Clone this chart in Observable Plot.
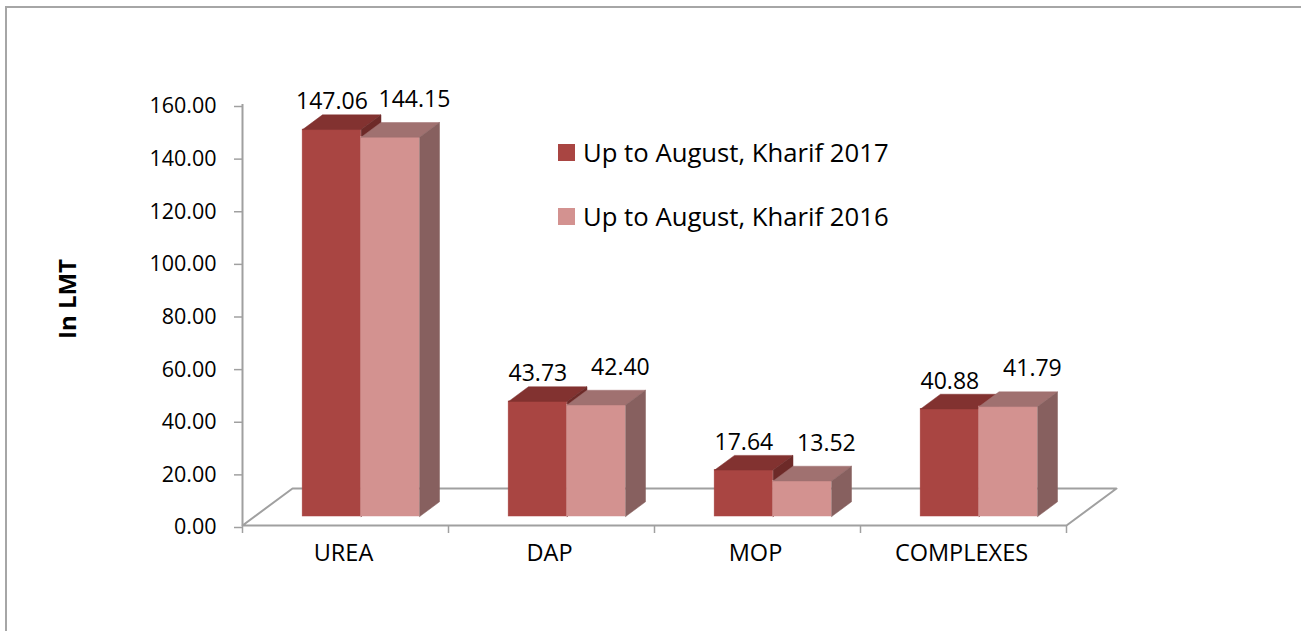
<!DOCTYPE html>
<html><head><meta charset="utf-8">
<script src="https://cdn.jsdelivr.net/npm/d3@7"></script>
<script src="https://cdn.jsdelivr.net/npm/@observablehq/plot@0.6"></script>
<style>
body{margin:0;background:#fff;font-family:"Open Sans",sans-serif;}
#wrap{position:relative;width:1301px;height:631px;overflow:hidden;background:#fff;}
#chart{position:absolute;left:0;top:0;}
#border{position:absolute;left:5px;top:6px;right:-10px;bottom:-10px;border-left:2px solid #a6a6a6;border-top:2px solid #a6a6a6;pointer-events:none;}
#legend{position:absolute;left:558px;top:0;}
.item{position:absolute;left:0;height:36px;display:flex;align-items:center;white-space:nowrap;font-size:25.7px;color:#000;font-family:"Open Sans",sans-serif;}
.sw{width:17px;height:17px;margin-right:8px;flex:none;}
</style></head><body>
<div id="wrap"><div id="chart"></div><div id="border"></div><div id="legend"></div></div>
<script>
// ---- data ----
const categories = ["UREA", "DAP", "MOP", "COMPLEXES"];
const kharif2017 = [147.06, 43.73, 17.64, 40.88];
const kharif2016 = [144.15, 42.40, 13.52, 41.79];
const seriesNames = ["Up to August, Kharif 2017", "Up to August, Kharif 2016"];
const yTicks = [0, 20, 40, 60, 80, 100, 120, 140, 160];

// ---- styles ----
const frontColors = ["#a94542", "#d39290"];
const topColors = ["#823230", "#a07170"];
const sideColors = ["#6d2a28", "#87605f"];
const gray = "#a0a0a0";

// ---- 3D layout constants (in data units) ----
const depthX = 50 / 206, depthY = 37 / 2.63;
const fF = 0.243, fB = 0.64;      // front / back depth fraction of the bars
const barL = 0.233, barW = 0.284; // bar offset and width inside a category

const bars = [];
categories.forEach((c, i) => {
  [kharif2017[i], kharif2016[i]].forEach((v, s) => {
    bars.push({c, i, s, v, x0: i + barL + s * barW});
  });
});

function poly(b, k, pts) {
  const closed = pts.concat([pts[0]]);
  return closed.map(([x, y]) => ({x, y, id: k, s: b.s}));
}
const tops = bars.flatMap((b, k) => poly(b, k, [
  [b.x0 + fF * depthX, b.v + fF * depthY],
  [b.x0 + barW + fF * depthX, b.v + fF * depthY],
  [b.x0 + barW + fB * depthX, b.v + fB * depthY],
  [b.x0 + fB * depthX, b.v + fB * depthY]
]));
const sides = bars.flatMap((b, k) => poly(b, k, [
  [b.x0 + barW + fF * depthX, fF * depthY],
  [b.x0 + barW + fB * depthX, fB * depthY],
  [b.x0 + barW + fB * depthX, b.v + fB * depthY],
  [b.x0 + barW + fF * depthX, b.v + fF * depthY]
]));
const n = categories.length;
const floor = [[0, 0], [n, 0], [n + depthX, depthY], [depthX, depthY], [0, 0]].map(([x, y]) => ({x, y}));

const barMarks = [];
[0, 1].forEach(s => {
  barMarks.push(
    Plot.rect(bars.filter(d => d.s === s), {
      x1: d => d.x0 + fF * depthX, x2: d => d.x0 + barW + fF * depthX,
      y1: d => fF * depthY, y2: d => d.v + fF * depthY,
      fill: frontColors[s], stroke: frontColors[s], strokeWidth: 0.5
    }),
    Plot.line(tops.filter(d => d.s === s), {x: "x", y: "y", z: "id", fill: topColors[s], stroke: topColors[s], strokeWidth: 0.5}),
    Plot.line(sides.filter(d => d.s === s), {x: "x", y: "y", z: "id", fill: sideColors[s], stroke: sideColors[s], strokeWidth: 0.5})
  );
});

const chart = Plot.plot({
  width: 1301, height: 631,
  marginLeft: 242, marginRight: 235, marginTop: 104, marginBottom: 106,
  style: {fontFamily: "Open Sans, sans-serif", background: "transparent", color: "#000"},
  x: {domain: [0, n], range: [242, 1066], label: null},
  y: {domain: [0, 160], range: [525, 104], label: null},
  marks: [
    Plot.line(floor, {x: "x", y: "y", stroke: gray, strokeWidth: 2}),
    Plot.ruleX([0], {stroke: gray, strokeWidth: 2}),
    Plot.axisY({ticks: yTicks, tickFormat: d => d.toFixed(2), tickSize: 8, tickPadding: 18,
      fontSize: 21.5, stroke: gray, strokeWidth: 1.5, fill: "#000", label: null, dy: 2}),
    Plot.axisX({ticks: d3.range(0, n + 1), tickSize: 8, tickFormat: () => "", stroke: gray, strokeWidth: 1.5, label: null}),
    ...barMarks,
    Plot.text(bars.filter(d => d.s === 0), {
      x: d => d.x0 + barW / 2 + fF * depthX, y: d => d.v + fB * depthY,
      text: d => d.v.toFixed(2), dy: -13, fontSize: 23, fill: "#000"
    }),
    Plot.text(bars.filter(d => d.s === 1), {
      x: d => d.x0 + barW / 2 + fF * depthX, y: d => d.v + fB * depthY,
      text: d => d.v.toFixed(2), dx: 24, dy: -23, fontSize: 23, fill: "#000"
    }),
    Plot.text(categories, {x: (d, i) => i + 0.5, frameAnchor: "bottom", dy: 35, dx: -2, fontSize: 23.5, fill: "#000"}),
    Plot.text(["In LMT"], {frameAnchor: "left", textAnchor: "middle", dx: -174, dy: -16, rotate: -90, fontWeight: "bold", fontSize: 24, fill: "#000"})
  ]
});
document.getElementById("chart").appendChild(chart);

// legend
const legend = document.getElementById("legend");
const centers = [152, 216];
seriesNames.forEach((name, s) => {
  const item = document.createElement("div");
  item.className = "item";
  item.style.top = (centers[s] - 18) + "px";
  const sw = document.createElement("span");
  sw.className = "sw";
  sw.style.background = frontColors[s];
  const tx = document.createElement("span");
  tx.textContent = name;
  item.appendChild(sw); item.appendChild(tx);
  legend.appendChild(item);
});
</script></body></html>
